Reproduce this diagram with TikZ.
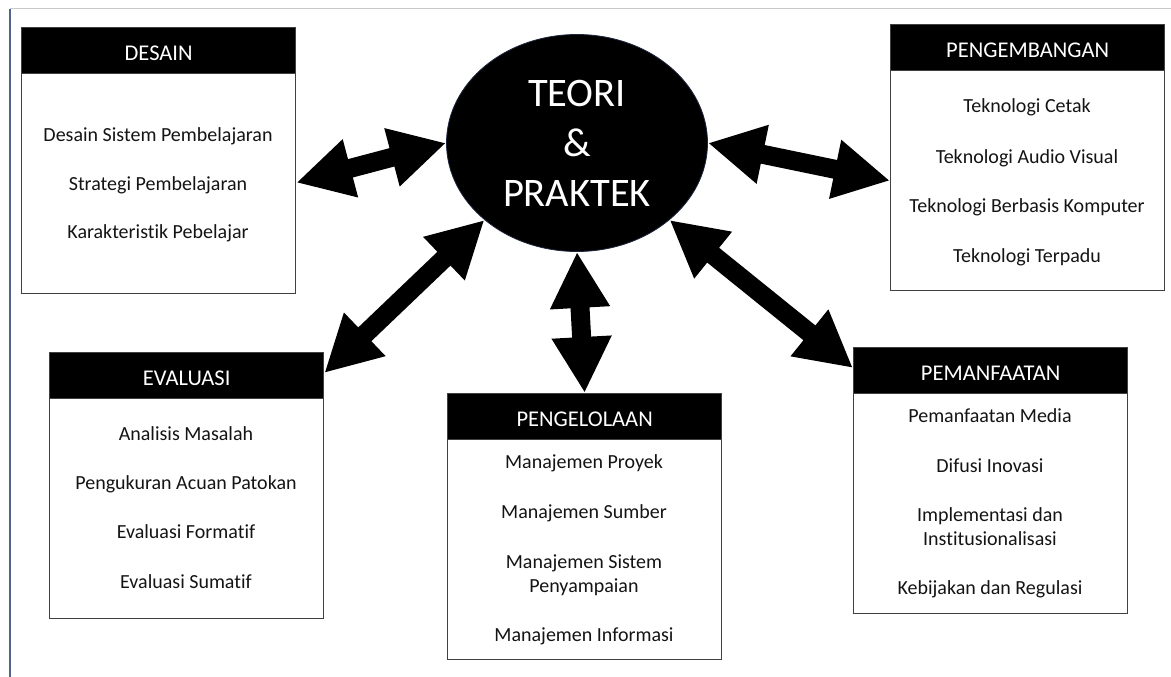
\documentclass[tikz,border=0pt]{standalone}
\usepackage{fontspec}
\setmainfont{Carlito}[Ligatures=NoCommon]
\usetikzlibrary{arrows.meta,shapes.geometric}
\definecolor{boxgray}{RGB}{64,64,64}
\definecolor{ellrim}{RGB}{30,38,62}
\definecolor{leftline}{RGB}{80,100,140}
\definecolor{topline}{RGB}{200,200,205}
\begin{document}
\begin{tikzpicture}[x=1pt,y=-1pt,
  box/.style={draw=boxgray,line width=1.3pt,fill=white,minimum width=274pt,minimum height=266pt,inner sep=0pt,anchor=north west},
  hdr/.style={draw=boxgray,line width=1.3pt,fill=black,text=white,minimum width=274pt,minimum height=46pt,inner sep=0pt,anchor=north,text height=19pt,text depth=0pt,font=\fontsize{22.5}{26}\selectfont},
  item/.style={anchor=base,font=\fontsize{20}{24}\selectfont,inner sep=0pt,text={rgb,255:red,20;green,20;blue,20}},
  dbl/.style={line width=19pt,{Triangle[length=56pt,width=56pt]}-{Triangle[length=56pt,width=56pt]}}]
\useasboundingbox (0,0) rectangle (1171,677);
\fill[white] (0,0) rectangle (1171,677);
% frame lines
\draw[line width=1pt,topline] (10,9) -- (1171,9);
\draw[line width=1.2pt,leftline] (10,9) -- (10,677);

% centre
\node[ellipse,fill=black,draw=ellrim,line width=0.8pt,minimum width=261pt,minimum height=217pt,inner sep=0pt,
      text=white,align=center,font=\fontsize{40.5}{50}\selectfont] (ell) at (577,143) {TEORI\\\&\\PRAKTEK};

% DESAIN
\node[box] (desain) at (21,27) {};
\node[hdr] (desainh) at (desain.north) {DESAIN};
\node[item] (d1) at (158,141) {Desain Sistem Pembelajaran};
\node[item] (d2) at (158,190) {Strategi Pembelajaran};
\node[item] (d3) at (158,238) {Karakteristik Pebelajar};

% PENGEMBANGAN
\node[box] (peng) at (890,24) {};
\node[hdr] (pengh) at (peng.north) {PENGEMBANGAN};
\node[item] (p1) at (1027,113) {Teknologi Cetak};
\node[item] (p2) at (1027,163) {Teknologi Audio Visual};
\node[item] (p3) at (1027,212) {Teknologi Berbasis Komputer};
\node[item] (p4) at (1027,262) {Teknologi Terpadu};

% EVALUASI
\node[box] (eval) at (49,352) {};
\node[hdr] (evalh) at (eval.north) {EVALUASI};
\node[item] (e1) at (186,440) {Analisis Masalah};
\node[item] (e2) at (186,489) {Pengukuran Acuan Patokan};
\node[item] (e3) at (186,538) {Evaluasi Formatif};
\node[item] (e4) at (186,588) {Evaluasi Sumatif};

% PENGELOLAAN
\node[box] (kelola) at (447,393) {};
\node[hdr] (kelolah) at (kelola.north) {PENGELOLAAN};
\node[item] (k1) at (584,468) {Manajemen Proyek};
\node[item] (k2) at (584,518) {Manajemen Sumber};
\node[item] (k3) at (584,568) {Manajemen Sistem};
\node[item] (k3b) at (584,592) {Penyampaian};
\node[item] (k4) at (584,641) {Manajemen Informasi};

% PEMANFAATAN
\node[box] (manfaat) at (853,347) {};
\node[hdr] (manfaath) at (manfaat.north) {PEMANFAATAN};
\node[item] (m1) at (990,422) {Pemanfaatan Media};
\node[item] (m2) at (990,472) {Difusi Inovasi};
\node[item] (m3) at (990,521) {Implementasi dan};
\node[item] (m3b) at (990,545) {Institusionalisasi};
\node[item] (m4) at (990,594) {Kebijakan dan Regulasi};

% arrows
\draw[dbl] ([yshift=-22pt]desain.east) -- (ell.west);
\draw[dbl] (ell.east) -- ([yshift=-23pt]peng.west);
\draw[dbl] (ell.south west) -- ([yshift=-21pt]eval.north east);
\draw[dbl] (ell.south) -- (kelola.north);
\draw[dbl] (ell.south east) -- ([yshift=-21pt]manfaat.north west);
\end{tikzpicture}
\end{document}
